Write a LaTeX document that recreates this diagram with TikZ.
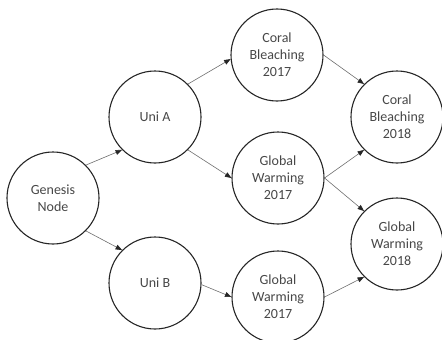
\documentclass[tikz,border=0pt]{standalone}
\usepackage{fontspec}
\setmainfont{Carlito}
\usetikzlibrary{arrows.meta,positioning}
\definecolor{ink}{HTML}{262626}
\definecolor{wire}{HTML}{6E6E6E}
\tikzset{
  event/.style={circle,draw=ink,line width=1.1pt,minimum size=92pt,inner sep=0pt,align=center,
    font=\fontsize{14}{17}\selectfont,text=ink!85},
  link/.style={-{Triangle[length=6.5pt,width=5pt,color=ink]},draw=wire,line width=0.6pt},
}

\begin{document}
\begin{tikzpicture}[x=1pt,y=-1pt]
  \useasboundingbox (0,0) rectangle (442,340);
  \node[event] (gen) at (53,198) {Genesis\\ Node};
  \node[event] (unia) at (155,117) {Uni A};
  \node[event] (unib) at (155,283) {Uni B};
  \node[event] (cb17) at (277,55) {Coral\\ Bleaching\\ 2017};
  \node[event] (gw17a) at (278,178) {Global\\ Warming\\ 2017};
  \node[event] (gw17b) at (278,297) {Global\\ Warming\\ 2017};
  \node[event] (cb18) at (397,117) {Coral\\ Bleaching\\ 2018};
  \node[event] (gw18) at (397,244) {Global\\ Warming\\ 2018};
  % links
  \draw[link] (gen.45) -- (unia.225);
  \draw[link] (gen.-45) -- (unib.135);
  \draw[link] (unia.45) -- (cb17.185);
  \draw[link] (unia.-45) -- (gw17a.west);
  \draw[link] (unib.-2) -- (gw17b.west);
  \draw[link] (cb17.east) -- (cb18.135);
  \draw[link] (gw17a.east) -- (cb18.225);
  \draw[link] (gw17a.east) -- (gw18.135);
  \draw[link] (gw17b.east) -- (gw18.225);
\end{tikzpicture}
\end{document}
